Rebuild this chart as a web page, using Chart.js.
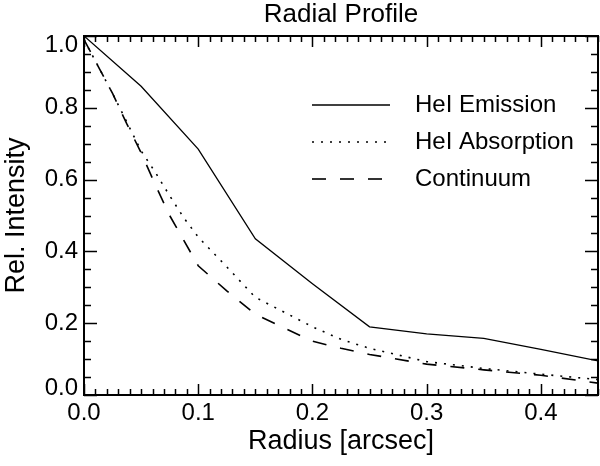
<!DOCTYPE html>
<html lang="en">
<head>
  <meta charset="UTF-8">
  <title>Radial Profile</title>
  <script src="https://cdn.jsdelivr.net/npm/chart.js"></script>
  <style>
    body { margin: 0; background: #fff; }
  </style>
</head>
<body>
  <canvas id="profileChart" width="600" height="466"></canvas>

  <script>
    // Values
    const emissionRadius = [0, 0.05, 0.1, 0.15, 0.2, 0.25, 0.3, 0.35, 0.4, 0.45];
    const emissionValues = [1.0, 0.86, 0.685, 0.435, 0.31, 0.19, 0.17, 0.158, 0.127, 0.095];

    const profileRadius = [0, 0.0125, 0.025, 0.0375, 0.05, 0.0625, 0.075, 0.0875, 0.1, 0.125,
                           0.15, 0.175, 0.2, 0.225, 0.25, 0.3, 0.35, 0.4, 0.45];
    const absorptionValues = [0.99, 0.915, 0.84, 0.76, 0.68, 0.62, 0.555, 0.493, 0.44, 0.357,
                              0.272, 0.231, 0.19, 0.155, 0.13, 0.093, 0.074, 0.058, 0.043];
    const continuumValues = [0.99, 0.915, 0.84, 0.755, 0.675, 0.585, 0.50, 0.43, 0.36, 0.29,
                             0.225, 0.187, 0.15, 0.13, 0.113, 0.086, 0.07, 0.055, 0.033];

    const seriesLabels = ['HeI Emission', 'HeI Absorption', 'Continuum'];
    const xTickValues = [0, 0.1, 0.2, 0.3, 0.4];
    const yTickValues = [0, 0.2, 0.4, 0.6, 0.8, 1.0];

    function toPoints(xs, ys) {
      return xs.map((x, i) => ({ x: x, y: ys[i] }));
    }

    const FONT = "'Liberation Sans', Arial, sans-serif";

    // Title centred over the plot box, box frame with inward ticks, y labels
    const frameTicks = {
      id: 'frameTicks',
      afterDraw(chart) {
        const { ctx, chartArea: a } = chart;
        const xs = chart.scales.x, ys = chart.scales.y;
        ctx.save();
        ctx.fillStyle = '#000';
        ctx.font = '26px ' + FONT;
        ctx.textAlign = 'center';
        ctx.textBaseline = 'middle';
        ctx.fillText('Radial Profile', (a.left + a.right) / 2, 15);

        // y labels, the end ones pulled inside like the original
        ctx.font = '24px ' + FONT;
        ctx.textAlign = 'right';
        ys.ticks.forEach(t => {
          let py = ys.getPixelForValue(t.value);
          py = Math.min(Math.max(py, a.top + 9), a.bottom - 7);
          ctx.fillText(t.value.toFixed(1), a.left - 6, py);
        });

        ctx.strokeStyle = '#000';
        ctx.lineWidth = 2;
        ctx.strokeRect(a.left, a.top, a.right - a.left, a.bottom - a.top);
        ctx.lineWidth = 1.5;
        ctx.beginPath();
        for (let i = 0; i <= 45; i++) {
          const px = Math.round(xs.getPixelForValue(i / 100)) + 0.5;
          const len = i % 10 === 0 ? 11 : 6;
          ctx.moveTo(px, a.bottom); ctx.lineTo(px, a.bottom - len);
          ctx.moveTo(px, a.top); ctx.lineTo(px, a.top + len);
        }
        for (let i = 0; i <= 20; i++) {
          const py = Math.round(ys.getPixelForValue(i / 20)) + 0.5;
          const len = i % 4 === 0 ? 13 : 7;
          ctx.moveTo(a.left, py); ctx.lineTo(a.left + len, py);
          ctx.moveTo(a.right, py); ctx.lineTo(a.right - len, py);
        }
        ctx.stroke();
        ctx.restore();
      }
    };

    // Legend drawn inside the plot, IDL style
    const insideLegend = {
      id: 'insideLegend',
      afterDatasetsDraw(chart) {
        const { ctx, chartArea: a } = chart;
        ctx.save();
        ctx.font = '24px ' + FONT;
        ctx.fillStyle = '#000';
        ctx.textBaseline = 'middle';
        chart.data.datasets.forEach((ds, i) => {
          const y = a.top + 69 + i * 37;
          ctx.strokeStyle = '#000';
          ctx.lineWidth = ds.borderWidth;
          ctx.setLineDash(ds.borderDash || []);
          ctx.beginPath();
          ctx.moveTo(312, y);
          ctx.lineTo(390, y);
          ctx.stroke();
          ctx.setLineDash([]);
          ctx.fillText(ds.label, 415, y);
        });
        ctx.restore();
      }
    };

    const ctx = document.getElementById('profileChart').getContext('2d');
    new Chart(ctx, {
      type: 'line',
      data: {
        datasets: [
          {
            label: seriesLabels[0],
            data: toPoints(emissionRadius, emissionValues),
            borderColor: '#000',
            borderWidth: 1.3,
            borderDash: []
          },
          {
            label: seriesLabels[1],
            data: toPoints(profileRadius, absorptionValues),
            borderColor: '#000',
            borderWidth: 1.6,
            borderDash: [2, 7]
          },
          {
            label: seriesLabels[2],
            data: toPoints(profileRadius, continuumValues),
            borderColor: '#000',
            borderWidth: 1.6,
            borderDash: [14, 14]
          }
        ]
      },
      options: {
        responsive: false,
        animation: false,
        devicePixelRatio: 1,
        layout: { padding: { top: 36, right: 2 } },
        elements: {
          point: { radius: 0 },
          line: { tension: 0, fill: false }
        },
        plugins: {
          legend: { display: false },
          tooltip: { enabled: false },
          title: { display: false }
        },
        scales: {
          x: {
            type: 'linear',
            min: 0,
            max: 0.45,
            grid: { display: false, drawTicks: false },
            border: { display: false },
            afterFit(scale) { scale.height = 71; },
            afterBuildTicks(scale) {
              scale.ticks = xTickValues.map(v => ({ value: v }));
            },
            ticks: {
              color: '#000',
              padding: 4,
              maxRotation: 0,
              autoSkip: false,
              font: { family: FONT, size: 24 },
              callback: v => v.toFixed(1)
            },
            title: {
              display: true,
              text: 'Radius [arcsec]',
              color: '#000',
              font: { family: FONT, size: 27 },
              padding: { top: 0, bottom: 8 }
            }
          },
          y: {
            min: 0,
            max: 1,
            grid: { display: false, drawTicks: false },
            border: { display: false },
            afterFit(scale) { scale.width = 84; },
            afterBuildTicks(scale) {
              scale.ticks = yTickValues.map(v => ({ value: v }));
            },
            ticks: { display: false },
            title: {
              display: true,
              text: 'Rel. Intensity',
              color: '#000',
              font: { family: FONT, size: 27 },
              padding: { top: 0, bottom: 0 }
            }
          }
        }
      },
      plugins: [frameTicks, insideLegend]
    });
  </script>
</body>
</html>
